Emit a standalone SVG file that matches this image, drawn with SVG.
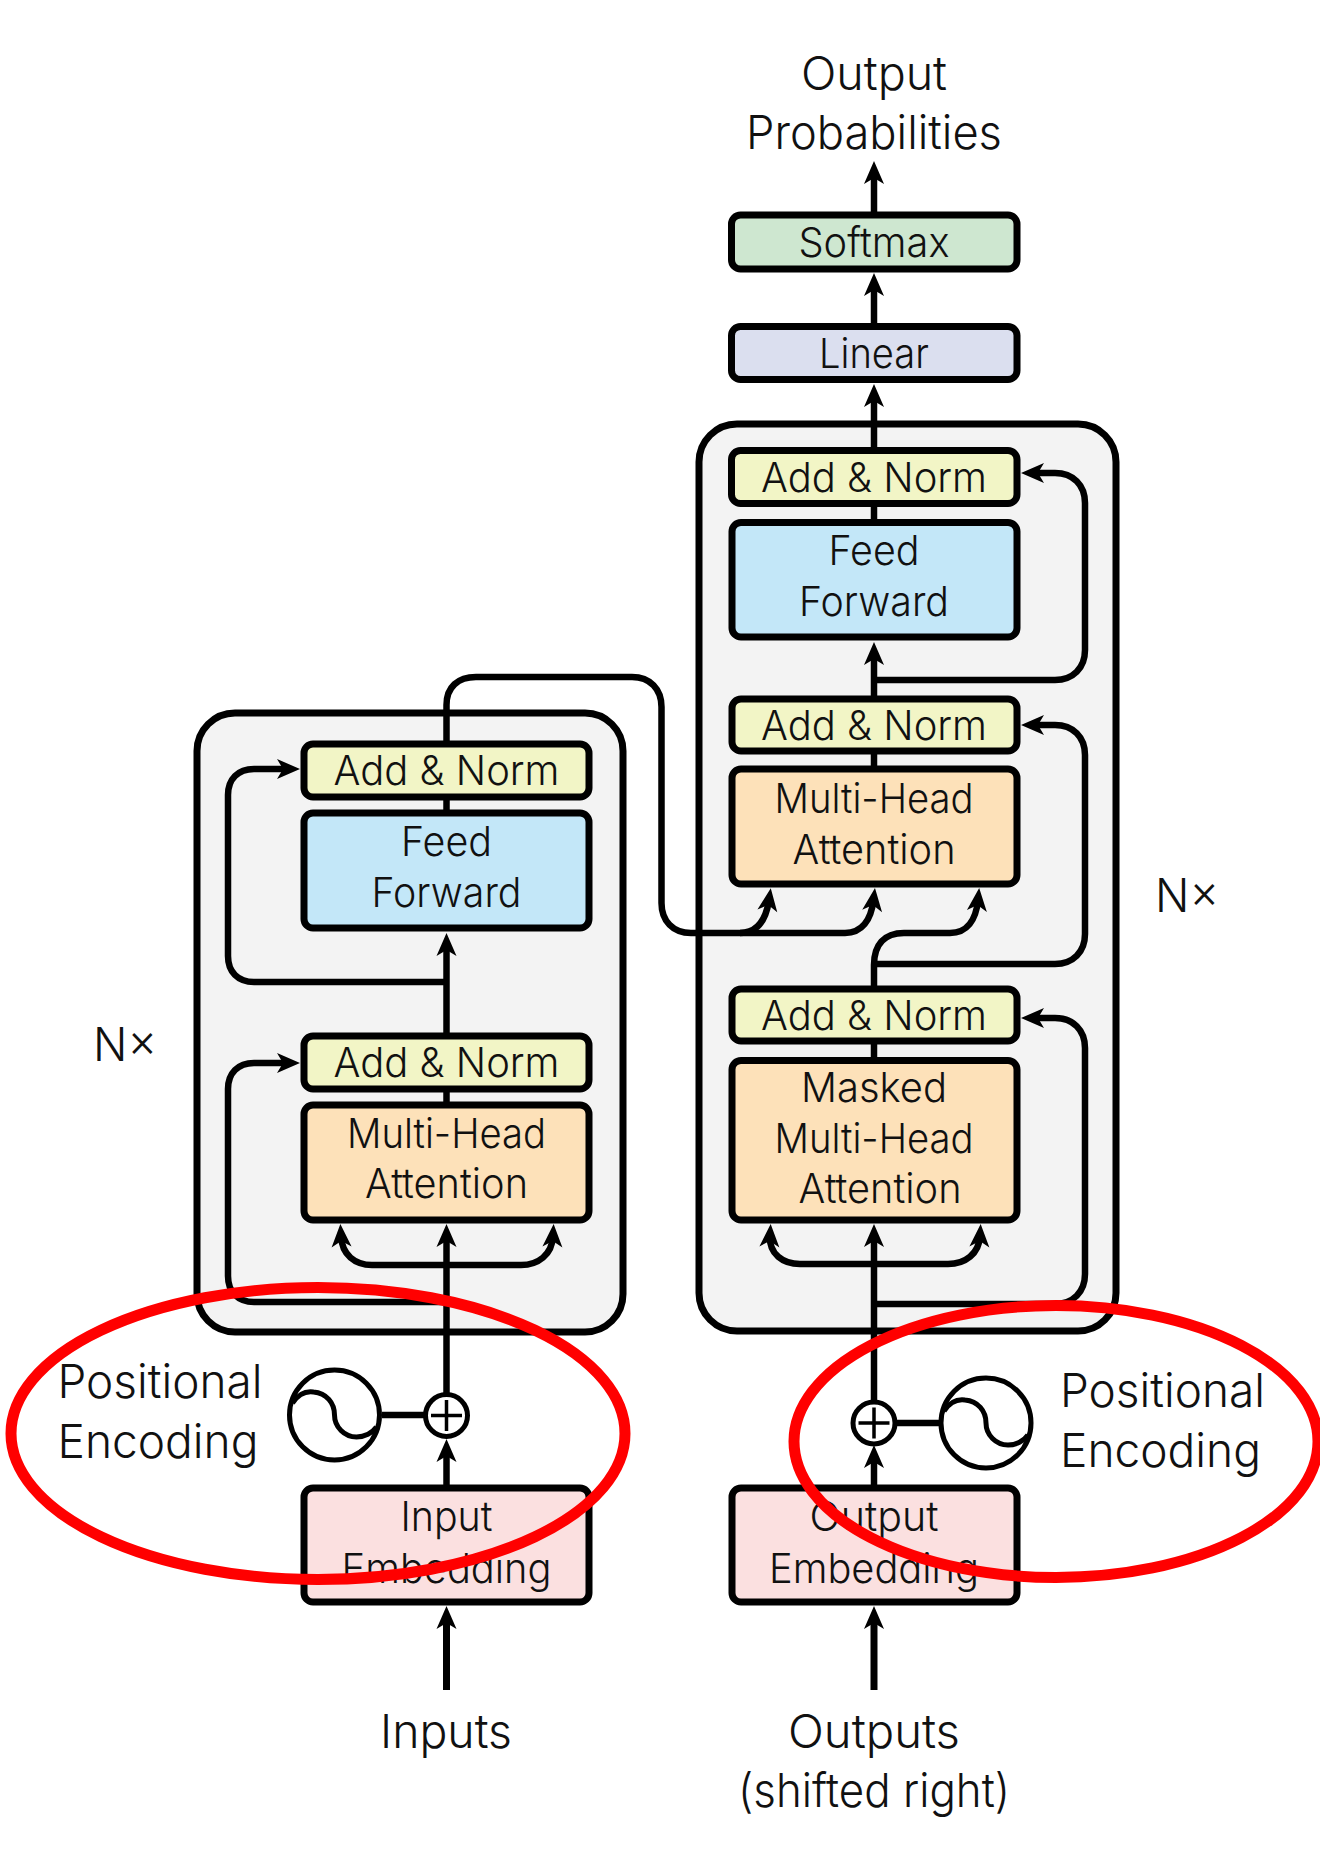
<svg xmlns="http://www.w3.org/2000/svg" width="1320" height="1860" viewBox="0 0 1320 1860">
<style>
text{font-family:"Inter","Liberation Sans",Arial,sans-serif;font-weight:300;fill:#111;text-anchor:middle}
.l{font-size:47px}
.b{font-size:41px}
.s{text-anchor:start}
.box{stroke:#000;stroke-width:7}
.stack{fill:#f3f3f3;stroke:#000;stroke-width:7}
.add{fill:#f2f5c6}.ff{fill:#c3e7f8}.mh{fill:#fde1b9}.emb{fill:#fbe0e0}.sm{fill:#cee7d0}.lin{fill:#dbdfef}
.c{fill:none;stroke:#000;stroke-width:6.5}
.a{marker-end:url(#h)}
.sig{fill:#fff;stroke:#000;stroke-width:5}
.red{fill:none;stroke:#f00;stroke-width:11}
</style>
<defs>
<marker id="h" viewBox="-12 -11 25 22" markerWidth="25" markerHeight="22" refX="0" refY="0" orient="auto" markerUnits="userSpaceOnUse">
<path d="M12,0L-11,-10L-5,0L-11,10Z" fill="#000"/>
</marker>
<path id="wave" d="M-42,-12C-36,-21 -28,-24 -21,-23C-8,-22 0,-12 0,0C0,12 10,22 22,22C30,22 38,18 42,12" fill="none" stroke="#000" stroke-width="5"/>
</defs>
<g id="encoder-stack"><rect class="stack" x="197" y="713" width="426" height="619" rx="38"/></g>
<g id="decoder-stack"><rect class="stack" x="699" y="424" width="417" height="907" rx="38"/></g>
<g id="connectors">
<path class="c a" d="M874,212V173"/>
<path class="c a" d="M874,323V285"/>
<path class="c a" d="M874,450V396"/>
<path class="c" d="M874,507V522"/>
<path class="c a" d="M874,696V654"/>
<path class="c" d="M874,754V769"/>
<path class="c a" d="M874,680H1055C1073,680 1085,668 1085,650V503C1085,485 1073,473 1055,473H1033"/>
<path class="c a" d="M874,964H1055C1073,964 1085,952 1085,934V755C1085,737 1073,725 1055,725H1033"/>
<path class="c a" d="M874,986V965C874,945 884,933 904,933H950C967,933 976,920 978,900"/>
<path class="c a" d="M446.5,744V705C446.5,687 458,677 476,677H632C650,677 661.5,689 661.5,707V903C661.5,921 673,933 691,933H845C862,933 871,920 873.5,900"/>
<path class="c a" d="M740,933C757,933 766,920 769,900"/>
<path class="c" d="M874,1041V1062"/>
<path class="c a" d="M874,1400V1236"/>
<path class="c a" d="M874,1264H800C783,1264 769,1254 770,1236"/>
<path class="c a" d="M874,1264H948C965,1264 979,1254 980,1236"/>
<path class="c a" d="M874,1304H1055C1073,1304 1085,1292 1085,1274V1048C1085,1030 1073,1018 1055,1018H1033"/>
<path class="c a" d="M874,1488V1457"/>
<path class="c" d="M895,1423H942"/>
<path class="c a" style="stroke-width:7" d="M874,1690V1618"/>
<path class="c" d="M446.5,797V813"/>
<path class="c a" d="M446.5,1036V945"/>
<path class="c a" d="M446.5,982H254C238,982 228,972 228,956V795C228,779 238,769 254,769H288"/>
<path class="c" d="M446.5,1089V1105"/>
<path class="c a" d="M446.5,1395V1236"/>
<path class="c a" d="M446.5,1265H372C355,1265 342,1255 341,1236"/>
<path class="c a" d="M446.5,1265H521C538,1265 552,1255 553,1236"/>
<path class="c a" d="M446.5,1302H254C238,1302 228,1292 228,1276V1089C228,1073 238,1063 254,1063H288"/>
<path class="c a" d="M446.5,1488V1451"/>
<path class="c" d="M382,1415H426"/>
<path class="c a" style="stroke-width:7" d="M446.5,1690V1618"/>
</g>
<g id="output-probabilities"><text class="l" x="874" y="90" textLength="146" lengthAdjust="spacingAndGlyphs">Output</text><text class="l" x="874" y="149" textLength="256" lengthAdjust="spacingAndGlyphs">Probabilities</text></g>
<g id="softmax"><rect class="box sm" x="731.500" y="215" width="285.500" height="54" rx="9"/><text class="b" x="874" y="257" textLength="151" lengthAdjust="spacingAndGlyphs">Softmax</text></g>
<g id="linear"><rect class="box lin" x="731.500" y="326.500" width="285.500" height="53" rx="9"/><text class="b" x="874" y="368" textLength="110" lengthAdjust="spacingAndGlyphs">Linear</text></g>
<g id="dec-add-norm-3"><rect class="box add" x="731.500" y="450.500" width="285.500" height="53" rx="9"/><text class="b" x="874" y="492" textLength="226" lengthAdjust="spacingAndGlyphs">Add &amp; Norm</text></g>
<g id="dec-feed-forward"><rect class="box ff" x="732" y="522.500" width="285" height="114.500" rx="9"/><text class="b" x="874" y="565" textLength="91" lengthAdjust="spacingAndGlyphs">Feed</text><text class="b" x="874" y="616" textLength="150" lengthAdjust="spacingAndGlyphs">Forward</text></g>
<g id="dec-add-norm-2"><rect class="box add" x="732" y="699" width="285" height="52" rx="9"/><text class="b" x="874" y="740" textLength="226" lengthAdjust="spacingAndGlyphs">Add &amp; Norm</text></g>
<g id="dec-multi-head"><rect class="box mh" x="732" y="769" width="285" height="115" rx="9"/><text class="b" x="874" y="813" textLength="199" lengthAdjust="spacingAndGlyphs">Multi-Head</text><text class="b" x="874" y="864" textLength="163" lengthAdjust="spacingAndGlyphs">Attention</text></g>
<g id="dec-add-norm-1"><rect class="box add" x="732" y="989" width="285" height="52" rx="9"/><text class="b" x="874" y="1030" textLength="226" lengthAdjust="spacingAndGlyphs">Add &amp; Norm</text></g>
<g id="dec-masked"><rect class="box mh" x="732" y="1060.500" width="285" height="159.500" rx="9"/><text class="b" x="874" y="1102" textLength="146" lengthAdjust="spacingAndGlyphs">Masked</text><text class="b" x="874" y="1153" textLength="199" lengthAdjust="spacingAndGlyphs">Multi-Head</text><text class="b" x="880" y="1203" textLength="163" lengthAdjust="spacingAndGlyphs">Attention</text></g>
<g id="enc-add-norm-2"><rect class="box add" x="304" y="744" width="285" height="53" rx="9"/><text class="b" x="446.500" y="785" textLength="226" lengthAdjust="spacingAndGlyphs">Add &amp; Norm</text></g>
<g id="enc-feed-forward"><rect class="box ff" x="304" y="813" width="285" height="115" rx="9"/><text class="b" x="446.500" y="856" textLength="91" lengthAdjust="spacingAndGlyphs">Feed</text><text class="b" x="446.500" y="907" textLength="150" lengthAdjust="spacingAndGlyphs">Forward</text></g>
<g id="enc-add-norm-1"><rect class="box add" x="304" y="1036" width="285" height="53" rx="9"/><text class="b" x="446.500" y="1077" textLength="226" lengthAdjust="spacingAndGlyphs">Add &amp; Norm</text></g>
<g id="enc-multi-head"><rect class="box mh" x="304" y="1105" width="285" height="115" rx="9"/><text class="b" x="446.500" y="1148" textLength="199" lengthAdjust="spacingAndGlyphs">Multi-Head</text><text class="b" x="446.500" y="1198" textLength="163" lengthAdjust="spacingAndGlyphs">Attention</text></g>
<g id="enc-plus"><circle class="sig" cx="446.500" cy="1415.500" r="21"/><path d="M431,1415.500H462M446.500,1400V1431" fill="none" stroke="#000" stroke-width="3.500"/></g>
<g id="enc-signal"><circle class="sig" cx="334.500" cy="1415" r="45"/><use href="#wave" x="334.500" y="1415"/></g>
<g id="dec-plus"><circle class="sig" cx="874" cy="1423" r="21"/><path d="M858.500,1423H889.500M874,1407.500V1438.500" fill="none" stroke="#000" stroke-width="3.500"/></g>
<g id="dec-signal"><circle class="sig" cx="986" cy="1423" r="45"/><use href="#wave" x="986" y="1423"/></g>
<g id="input-embedding"><rect class="box emb" x="304" y="1488" width="285" height="114" rx="9"/><text class="b" x="446.500" y="1531" textLength="92" lengthAdjust="spacingAndGlyphs">Input</text><text class="b" x="446.500" y="1583" textLength="210" lengthAdjust="spacingAndGlyphs">Embedding</text></g>
<g id="output-embedding"><rect class="box emb" x="732" y="1488" width="285" height="114" rx="9"/><text class="b" x="874" y="1531" textLength="129" lengthAdjust="spacingAndGlyphs">Output</text><text class="b" x="874" y="1583" textLength="210" lengthAdjust="spacingAndGlyphs">Embedding</text></g>
<g id="labels">
<text class="l s" x="57.500" y="1398" textLength="205" lengthAdjust="spacingAndGlyphs">Positional</text><text class="l s" x="57.500" y="1458" textLength="201" lengthAdjust="spacingAndGlyphs">Encoding</text>
<text class="l s" x="1060" y="1407" textLength="205" lengthAdjust="spacingAndGlyphs">Positional</text><text class="l s" x="1060" y="1467" textLength="201" lengthAdjust="spacingAndGlyphs">Encoding</text>
<text class="l" x="446" y="1748" textLength="132" lengthAdjust="spacingAndGlyphs">Inputs</text>
<text class="l" x="874" y="1748" textLength="172" lengthAdjust="spacingAndGlyphs">Outputs</text><text class="l" x="874" y="1807" textLength="272" lengthAdjust="spacingAndGlyphs">(shifted right)</text>
<text class="l s" x="93" y="1061" textLength="64" lengthAdjust="spacingAndGlyphs">N×</text><text class="l s" x="1155" y="912" textLength="64" lengthAdjust="spacingAndGlyphs">N×</text>
</g>
<g id="annotations">
<ellipse class="red" cx="318" cy="1433.500" rx="307" ry="146"/>
<ellipse class="red" cx="1056" cy="1441.500" rx="262" ry="136"/>
</g>
</svg>
